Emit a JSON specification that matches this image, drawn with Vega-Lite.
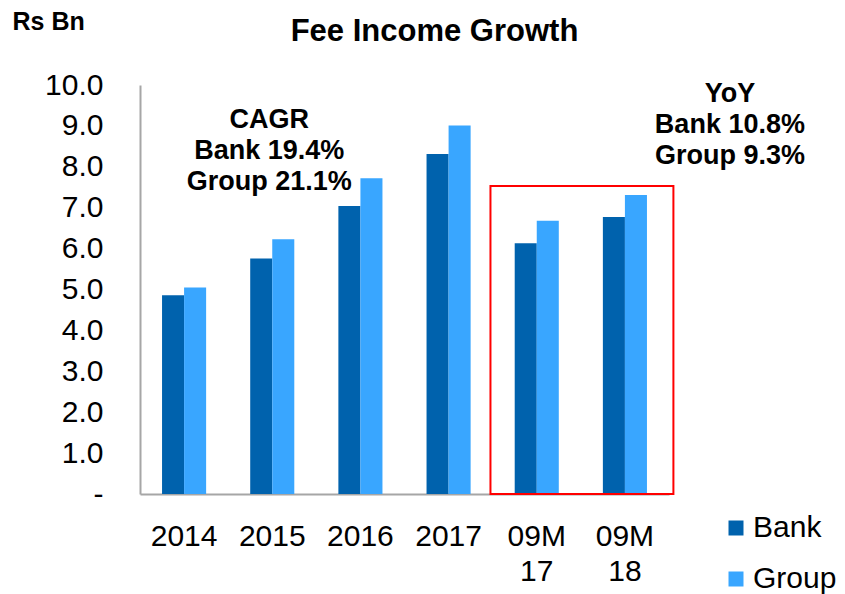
{
  "$schema": "https://vega.github.io/schema/vega-lite/v6.json",
  "width": 529,
  "height": 409,
  "autosize": {"type": "none"},
  "padding": {"left": 140, "top": 85, "right": 176, "bottom": 100},
  "background": "white",
  "config": {"view": {"stroke": null}, "font": "Liberation Sans"},
  "title": {
    "text": "Fee Income Growth",
    "font": "Liberation Sans",
    "fontSize": 31,
    "fontWeight": "bold",
    "color": "black",
    "anchor": "middle",
    "dx": 30,
    "offset": -39
  },
  "datasets": {
    "fees": [
      {"period": "2014", "series": "Bank", "value": 4.86},
      {"period": "2014", "series": "Group", "value": 5.05},
      {"period": "2015", "series": "Bank", "value": 5.76},
      {"period": "2015", "series": "Group", "value": 6.23},
      {"period": "2016", "series": "Bank", "value": 7.04},
      {"period": "2016", "series": "Group", "value": 7.72},
      {"period": "2017", "series": "Bank", "value": 8.31},
      {"period": "2017", "series": "Group", "value": 9.01},
      {"period": "09M 17", "series": "Bank", "value": 6.13},
      {"period": "09M 17", "series": "Group", "value": 6.68},
      {"period": "09M 18", "series": "Bank", "value": 6.77},
      {"period": "09M 18", "series": "Group", "value": 7.31}
    ],
    "box": [
      {"from": "09M 17", "to": "09M 18", "top": 7.53, "bottom": 0}
    ],
    "cagr": [
      {"period": "2015", "value": 8.94, "lines": ["CAGR", "Bank 19.4%", "Group 21.1%"]}
    ],
    "yoy": [
      {"period": "09M 18", "value": 9.59, "lines": ["YoY", "Bank 10.8%", "Group 9.3%"]}
    ]
  },
  "layer": [
    {
      "data": {"name": "fees"},
      "mark": {"type": "bar"},
      "encoding": {
        "x": {
          "field": "period",
          "type": "nominal",
          "scale": {
            "domain": ["2014", "2015", "2016", "2017", "09M 17", "09M 18"],
            "paddingInner": 0.5,
            "paddingOuter": 0.25
          },
          "axis": {
            "title": null,
            "labelAngle": 0,
            "labelExpr": "split(datum.label, ' ')",
            "labelFont": "Liberation Sans",
            "labelFontSize": 30,
            "labelLineHeight": 35,
            "labelPadding": 27,
            "labelColor": "black",
            "ticks": false,
            "tickSize": 0,
            "domainColor": "#A6A6A6",
            "domainWidth": 2
          }
        },
        "xOffset": {"field": "series", "type": "nominal", "sort": ["Bank", "Group"]},
        "y": {
          "field": "value",
          "type": "quantitative",
          "scale": {"domain": [0, 10], "nice": false},
          "axis": {
            "title": "Rs Bn",
            "titleAngle": 0,
            "titleAlign": "left",
            "titleBaseline": "alphabetic",
            "titleX": -128,
            "titleY": -56,
            "titleFont": "Liberation Sans",
            "titleFontSize": 25,
            "titleFontWeight": "bold",
            "titleColor": "black",
            "values": [0, 1, 2, 3, 4, 5, 6, 7, 8, 9, 10],
            "labelExpr": "datum.value == 0 ? '-' : format(datum.value, '.1f')",
            "labelFont": "Liberation Sans",
            "labelFontSize": 30,
            "labelColor": "black",
            "labelPadding": 37,
            "ticks": false,
            "tickSize": 0,
            "grid": false,
            "domainColor": "#A6A6A6",
            "domainWidth": 2
          }
        },
        "color": {
          "field": "series",
          "type": "nominal",
          "scale": {"domain": ["Bank", "Group"], "range": ["#0062AD", "#39A6FF"]},
          "legend": {
            "title": null,
            "orient": "none",
            "legendX": 581,
            "legendY": 428,
            "padding": 0,
            "symbolType": "square",
            "symbolSize": 225,
            "symbolStrokeWidth": 0,
            "symbolOpacity": 1,
            "labelFont": "Liberation Sans",
            "labelFontSize": 30,
            "labelColor": "black",
            "labelOffset": 2,
            "rowPadding": 21
          }
        }
      }
    },
    {
      "data": {"name": "box"},
      "mark": {"type": "rect", "fill": null, "fillOpacity": 0, "stroke": "#FF0000", "strokeWidth": 2},
      "encoding": {
        "x": {"field": "from", "type": "nominal", "bandPosition": -0.55},
        "x2": {"field": "to", "bandPosition": 1.6},
        "y": {"field": "top", "type": "quantitative"},
        "y2": {"field": "bottom"}
      }
    },
    {
      "data": {"name": "cagr"},
      "mark": {"type": "text", "font": "Liberation Sans", "fontSize": 27, "fontWeight": "bold", "color": "black", "align": "center", "baseline": "alphabetic", "lineHeight": 31, "dx": -3},
      "encoding": {
        "x": {"field": "period", "type": "nominal"},
        "y": {"field": "value", "type": "quantitative"},
        "text": {"field": "lines"}
      }
    },
    {
      "data": {"name": "yoy"},
      "mark": {"type": "text", "font": "Liberation Sans", "fontSize": 27, "fontWeight": "bold", "color": "black", "align": "center", "baseline": "alphabetic", "lineHeight": 31, "dx": 105},
      "encoding": {
        "x": {"field": "period", "type": "nominal"},
        "y": {"field": "value", "type": "quantitative"},
        "text": {"field": "lines"}
      }
    }
  ]
}
